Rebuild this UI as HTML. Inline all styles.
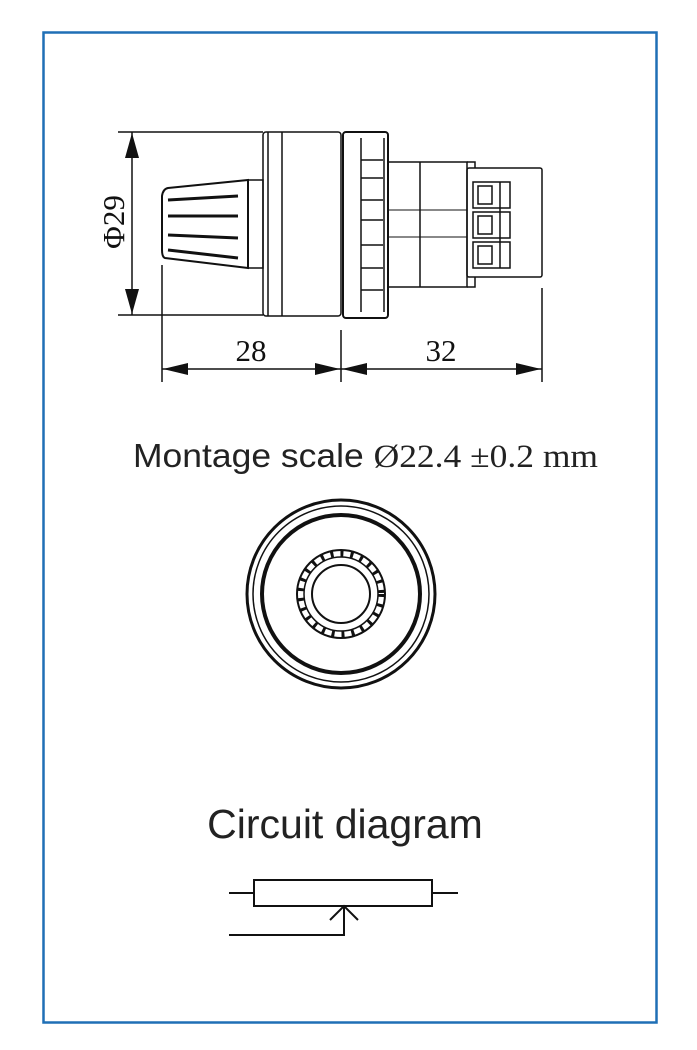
<!DOCTYPE html>
<html><head><meta charset="utf-8"><style>
html,body{margin:0;padding:0;background:#fff;width:697px;height:1050px;overflow:hidden}
svg{display:block}
</style></head><body>
<svg width="697" height="1050" viewBox="0 0 697 1050" xmlns="http://www.w3.org/2000/svg">
<rect x="43.5" y="32.5" width="613" height="990" fill="none" stroke="#1f6fb5" stroke-width="2.5"/>
<g stroke="#111" fill="none" stroke-width="1.5">
<line x1="118" y1="132" x2="263" y2="132"/>
<line x1="118" y1="315" x2="263" y2="315"/>
<line x1="132" y1="132" x2="132" y2="315"/>
<rect x="263" y="132" width="78" height="184" rx="3"/>
<line x1="268" y1="132" x2="268" y2="316"/>
<line x1="282" y1="132" x2="282" y2="316"/>
<rect x="343" y="132" width="45" height="186" rx="3" stroke-width="2"/>
<line x1="361" y1="138" x2="361" y2="312"/>
<line x1="384" y1="138" x2="384" y2="312"/>
<path d="M361 160h22M361 178h22M361 200h22M361 220h22M361 245h22M361 268h22M361 290h22"/>
<rect x="248" y="180" width="15" height="88"/>
<path d="M168 188 L248 180 L248 268 L165 258 Q162 257 162 250 L162 196 Q163 189 168 188Z" stroke-width="2"/>
<path d="M168 200 L238 196M168 216 L238 216M168 235 L238 238M168 250 L238 258" stroke-width="3"/>
<rect x="388" y="162" width="79" height="125"/>
<line x1="420" y1="162" x2="420" y2="287"/>
<rect x="388" y="210" width="79" height="27" stroke-width="1"/>
<rect x="467" y="168" width="75" height="109" rx="2"/>
<path d="M467 162 L475 162 L475 168 M467 287 L475 287 L475 277"/>
<rect x="473" y="182" width="37" height="26"/>
<rect x="473" y="212" width="37" height="26"/>
<rect x="473" y="242" width="37" height="26"/>
<rect x="478" y="186" width="14" height="18"/>
<rect x="478" y="216" width="14" height="18"/>
<rect x="478" y="246" width="14" height="18"/>
<line x1="500" y1="182" x2="500" y2="268"/>
<line x1="162" y1="265" x2="162" y2="382"/>
<line x1="341" y1="330" x2="341" y2="382"/>
<line x1="542" y1="288" x2="542" y2="382"/>
<line x1="162" y1="369" x2="542" y2="369"/>
</g>
<g fill="#111">
<polygon points="132,133 125,158 139,158"/>
<polygon points="132,314 125,289 139,289"/>
<polygon points="163,369 188,363 188,375"/>
<polygon points="340,369 315,363 315,375"/>
<polygon points="342,369 367,363 367,375"/>
<polygon points="541,369 516,363 516,375"/>
</g>
<g font-family="'Liberation Serif',serif" font-size="31" fill="#111">
<text x="251" y="361" text-anchor="middle">28</text>
<text x="441" y="361" text-anchor="middle">32</text>
<text transform="translate(124,222) rotate(-90)" text-anchor="middle">Φ29</text>
</g>
<text x="133" y="467" font-family="'Liberation Sans',sans-serif" font-size="33" fill="#222" textLength="465" lengthAdjust="spacingAndGlyphs">Montage scale <tspan font-family="'Liberation Serif',serif">Ø22.4 ±0.2 mm</tspan></text>
<g stroke="#111" fill="none">
<circle cx="341" cy="594" r="94" stroke-width="3"/>
<circle cx="341" cy="594" r="88" stroke-width="1.5"/>
<circle cx="341" cy="594" r="79" stroke-width="4"/>
<circle cx="341" cy="594" r="44" stroke-width="2"/>
<circle cx="341" cy="594" r="37" stroke-width="1.5"/>
<circle cx="341" cy="594" r="29" stroke-width="2"/>
<circle cx="341" cy="594" r="40.5" stroke-width="6" stroke-dasharray="3 7"/>
</g>
<text x="345" y="838" text-anchor="middle" font-family="'Liberation Sans',sans-serif" font-size="41" fill="#222">Circuit diagram</text>
<g stroke="#111" fill="none" stroke-width="2">
<rect x="254" y="880" width="178" height="26"/>
<line x1="229" y1="893" x2="254" y2="893"/>
<line x1="432" y1="893" x2="458" y2="893"/>
<path d="M229 935 H344 V906"/>
<path d="M330 920 L344 906 L358 920"/>
</g>
</svg>
</body></html>
